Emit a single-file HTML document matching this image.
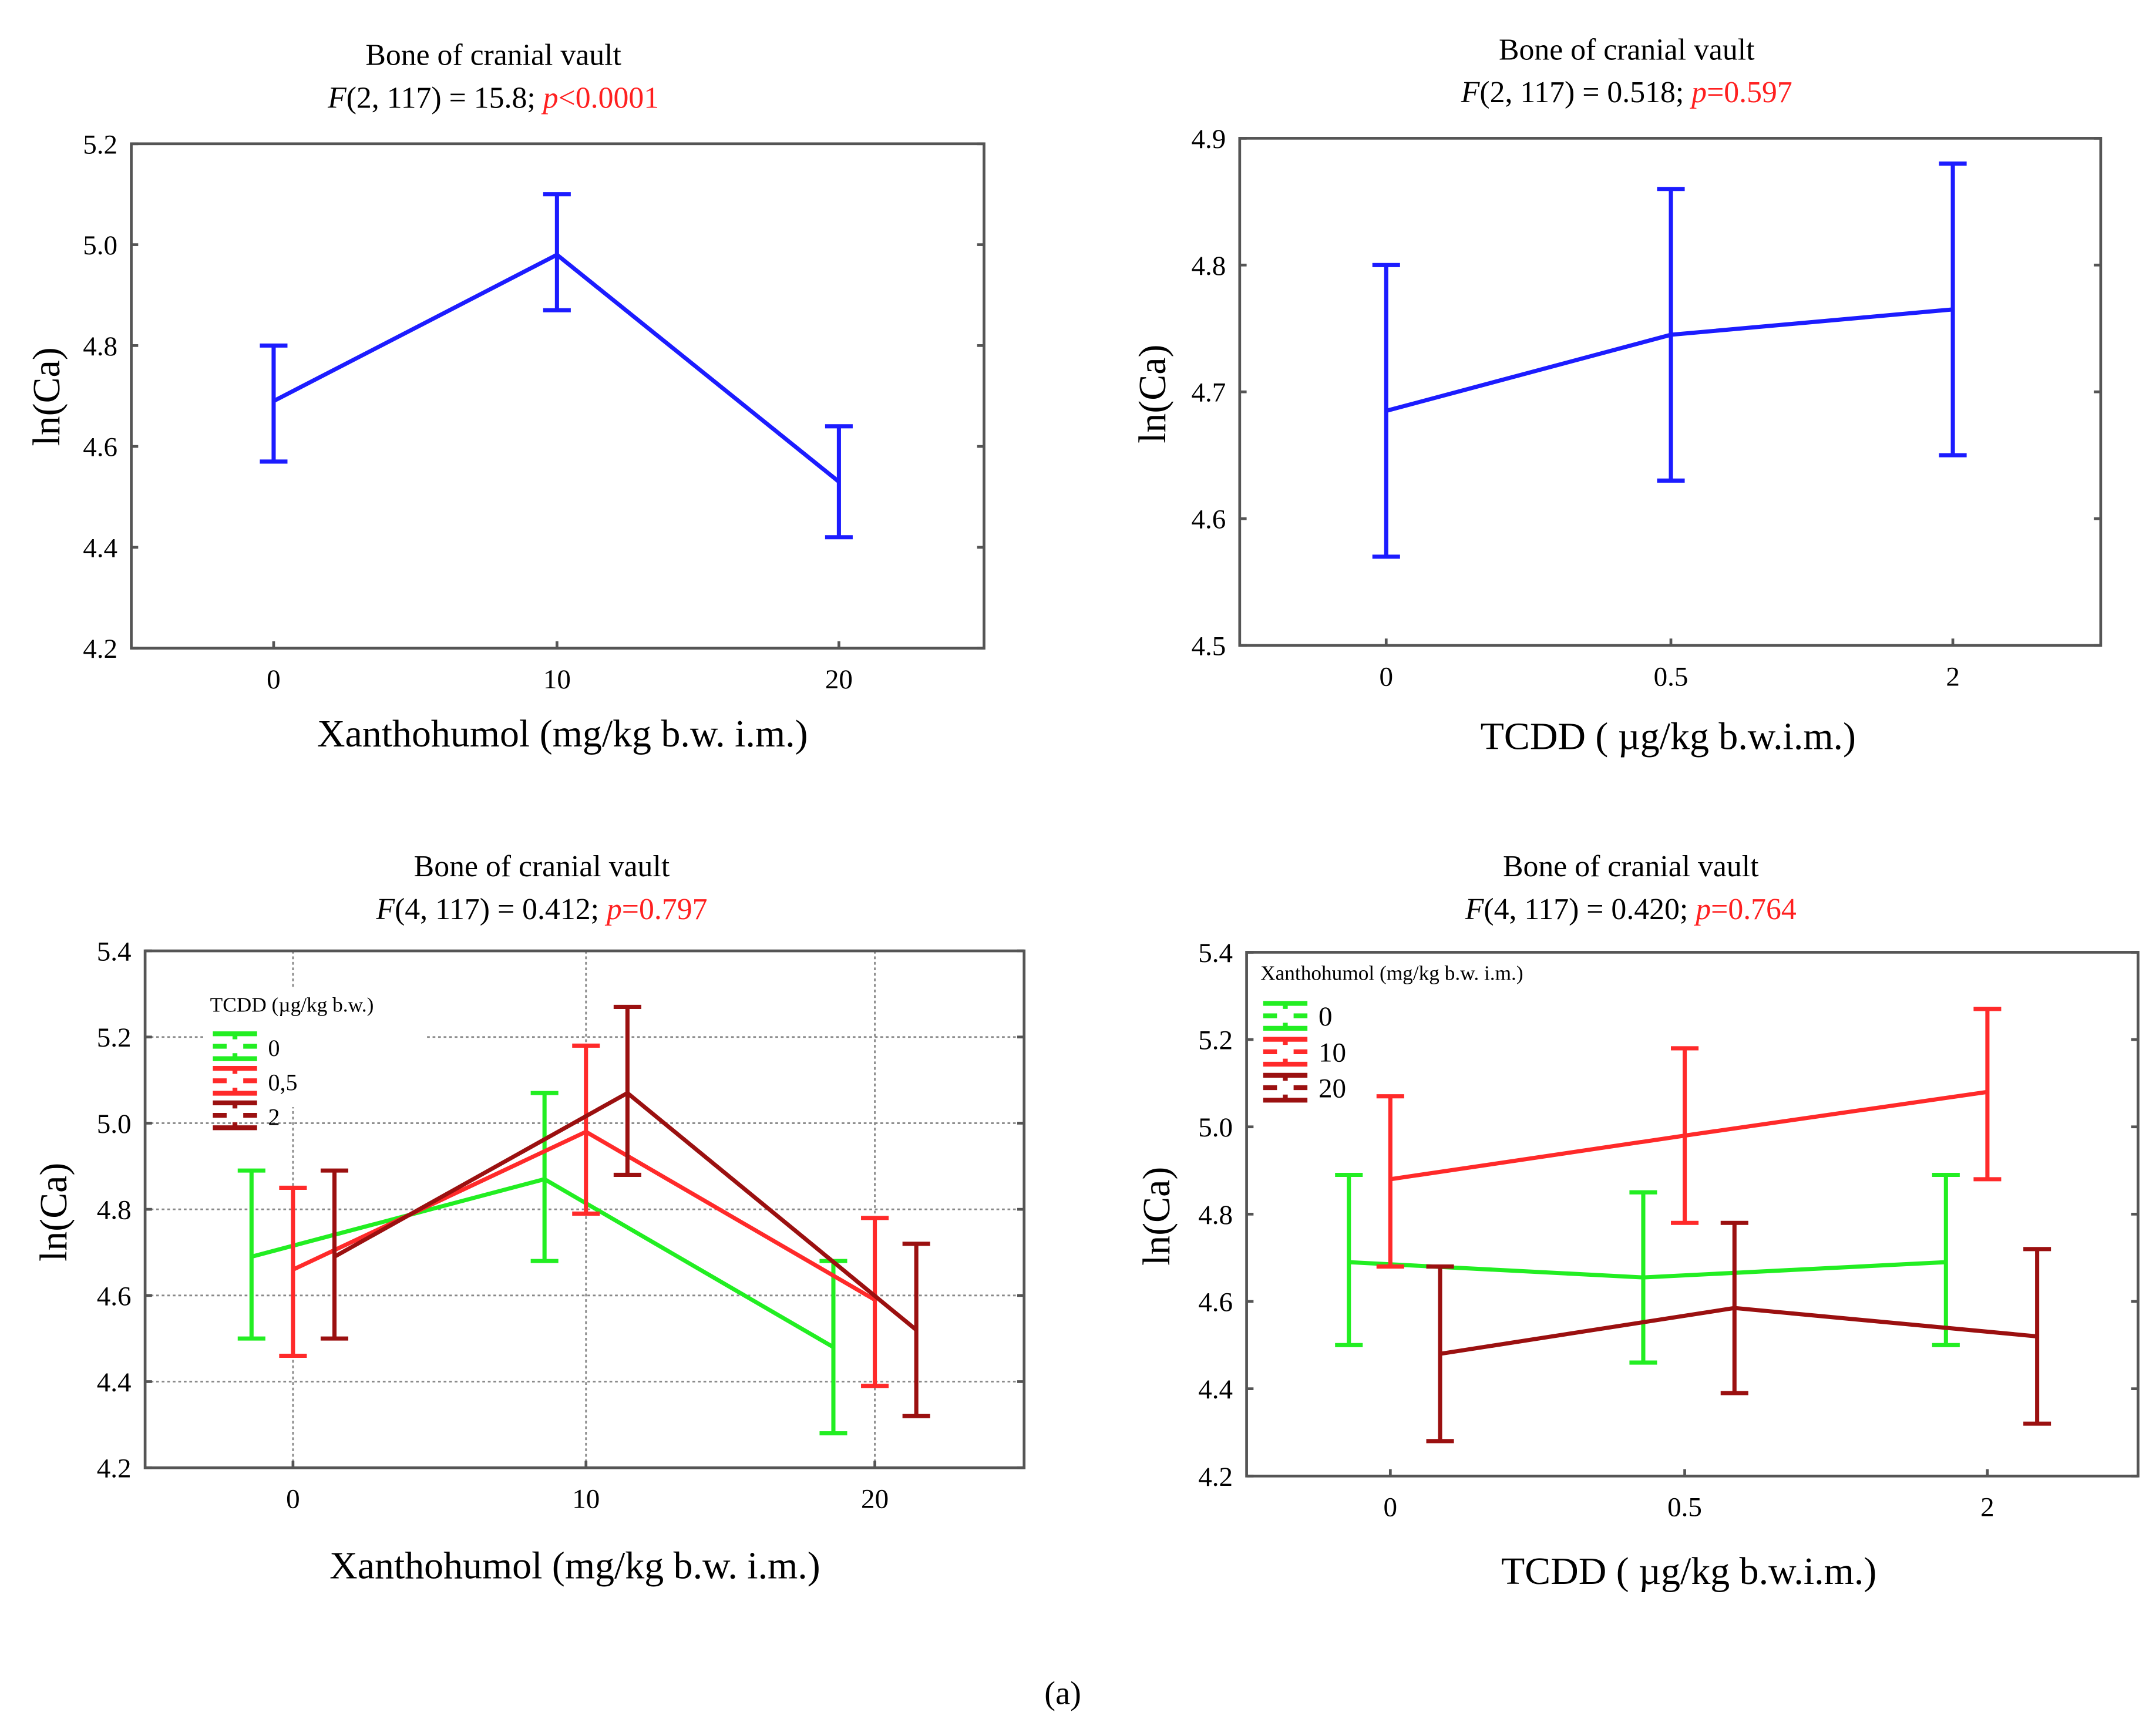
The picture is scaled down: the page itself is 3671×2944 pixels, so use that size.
<!DOCTYPE html>
<html><head><meta charset="utf-8"><style>
html,body{margin:0;padding:0;background:#fff;}
svg{display:block;}
text{font-family:"Liberation Serif",serif;}
</style></head><body>
<svg id="fig" width="3671" height="2944" viewBox="0 0 1560 1251" xmlns="http://www.w3.org/2000/svg"></svg>
<script>
// ---- data ----
const catsX = ["0","10","20"];
const catsT = ["0","0.5","2"];
const p1Mean = [4.69, 4.98, 4.53];
const p1Lo = [4.57, 4.87, 4.42];
const p1Hi = [4.80, 5.10, 4.64];
const p2Mean = [4.685, 4.745, 4.765];
const p2Lo = [4.57, 4.63, 4.65];
const p2Hi = [4.80, 4.86, 4.88];
const p3Names = ["0","0,5","2"];
const p3Mean = [[4.69,4.87,4.48],[4.66,4.98,4.59],[4.69,5.07,4.52]];
const p3Lo = [[4.50,4.68,4.28],[4.46,4.79,4.39],[4.50,4.88,4.32]];
const p3Hi = [[4.89,5.07,4.68],[4.85,5.18,4.78],[4.89,5.27,4.72]];
const p4Names = ["0","10","20"];
const p4Mean = [[4.69,4.655,4.69],[4.88,4.98,5.08],[4.48,4.585,4.52]];
const p4Lo = [[4.50,4.46,4.50],[4.68,4.78,4.88],[4.28,4.39,4.32]];
const p4Hi = [[4.89,4.85,4.89],[5.07,5.18,5.27],[4.68,4.78,4.72]];
const ticks1 = ["4.2","4.4","4.6","4.8","5.0","5.2"];
const ticks2 = ["4.5","4.6","4.7","4.8","4.9"];
const ticks3 = ["4.2","4.4","4.6","4.8","5.0","5.2","5.4"];
const colors = ["#22ee22","#ff2a2a","#9b1010"];

const NS="http://www.w3.org/2000/svg";
const svg=document.getElementById('fig');
function mk(tag,attrs,parent,txt){const e=document.createElementNS(NS,tag);for(const k in attrs)e.setAttribute(k,attrs[k]);if(txt!==undefined)e.textContent=txt;(parent||svg).appendChild(e);return e;}

function panel(o){
  const g=mk('g',{});
  
  
  const ymin=+o.ticks[0], ymax=+o.ticks[o.ticks.length-1];
  const Y=v=>o.y1+(ymax-v)/(ymax-ymin)*(o.y0-o.y1);
  const X=i=>o.xs[i];
  // title
  let t=mk('text',{x:o.tx,y:o.ty,'font-size':22,'text-anchor':'middle'},g,'Bone of cranial vault');
  
  t=mk('text',{x:o.tx,y:o.ty+31,'font-size':22,'text-anchor':'middle'},g);
  
  mk('tspan',{'font-style':'italic'},t,'F');
  mk('tspan',{},t,o.f+'; ');
  mk('tspan',{fill:'#ff2020','font-style':'italic'},t,'p');
  mk('tspan',{fill:'#ff2020'},t,o.p);
  // grid
  if(o.grid){
    o.ticks.forEach(tk=>{const y=Y(+tk);if(y>o.y1+2&&y<o.y0-2)mk('line',{x1:o.x0,x2:o.x1,y1:y,y2:y,stroke:'#888','stroke-width':1.2,'stroke-dasharray':'2,2'},g);});
    o.xs.forEach(x=>mk('line',{x1:x,x2:x,y1:o.y1,y2:o.y0,stroke:'#888','stroke-width':1.2,'stroke-dasharray':'2,2'},g));
  }
  // box
  const b=mk('rect',{x:o.x0,y:o.y1,width:o.x1-o.x0,height:o.y0-o.y1,fill:'none',stroke:'#555','stroke-width':2},g);
  
  // y ticks
  o.ticks.forEach(tk=>{const y=Y(+tk);
    mk('line',{x1:o.x0,x2:o.x0+5,y1:y,y2:y,stroke:'#555','stroke-width':2},g);
    mk('line',{x1:o.x1-5,x2:o.x1,y1:y,y2:y,stroke:'#555','stroke-width':2},g);
    const l=mk('text',{x:o.x0-10,y:y+7,'font-size':20,'text-anchor':'end'},g,tk);
    });
  o.cats.forEach((c,i)=>{
    mk('line',{x1:X(i),x2:X(i),y1:o.y0,y2:o.y0-5,stroke:'#555','stroke-width':2},g);
    const l=mk('text',{x:X(i),y:o.y0+29,'font-size':20,'text-anchor':'middle'},g,c);
    });
  t=mk('text',{x:o.xlx,y:o.xly,'font-size':28,'text-anchor':'middle'},g,o.xlabel);
  
  t=mk('text',{x:0,y:0,'font-size':28,'text-anchor':'middle',transform:`translate(${o.ylx},${o.yly}) rotate(-90)`},g,'ln(Ca)');
  
  // series
  o.series.forEach((s,si)=>{
    const sg=mk('g',{},g);
    
    
    const px=i=>X(i)+s.off;
    mk('polyline',{points:s.mean.map((v,i)=>px(i)+','+Y(v)).join(' '),fill:'none',stroke:s.color,'stroke-width':3},sg);
    s.mean.forEach((v,i)=>{
      const x=px(i);
      const eb=mk('path',{d:`M${x},${Y(s.lo[i])}V${Y(s.hi[i])}M${x-10},${Y(s.lo[i])}H${x+10}M${x-10},${Y(s.hi[i])}H${x+10}`,fill:'none',stroke:s.color,'stroke-width':3},sg);
      
    });
  });
  if(o.legend){
    const L=o.legend;
    const lg=mk('g',{},g);
    
    mk('rect',{x:L.x-4,y:L.y-16,width:L.w,height:L.h,fill:'#fff'},lg);
    const lt=mk('text',{x:L.x,y:L.y,'font-size':L.tfs},lg,L.title);
    
    o.series.forEach((s,si)=>{
      const yc=L.y+L.dy*(si+1);
      const e=mk('g',{},lg);
      
      const x=L.x+2;
      mk('path',{d:`M${x},${yc-9}H${x+32}M${x},${yc}H${x+10}M${x+22},${yc}H${x+32}M${x},${yc+9}H${x+32}M${x+16},${yc-9}V${yc-5}M${x+16},${yc+9}V${yc+5}`,stroke:s.color,'stroke-width':3.5,fill:'none'},e);
      mk('text',{x:x+40,y:yc+7,'font-size':L.fs},e,s.label);
    });
  }
}

panel({name:'panel-xanthohumol',x0:95,x1:712,y0:469,y1:104,ticks:ticks1,xs:[198,403,607],cats:catsX,
  tx:357,ty:47,f:'(2, 117) = 15.8',p:'<0.0001',xlabel:'Xanthohumol (mg/kg b.w. i.m.)',xlx:407,xly:540,ylx:43,yly:287,
  series:[{label:'mean',color:'#1c1cff',off:0,mean:p1Mean,lo:p1Lo,hi:p1Hi}]});
panel({name:'panel-tcdd',x0:897,x1:1520,y0:467,y1:100,ticks:ticks2,xs:[1003,1209,1413],cats:catsT,
  tx:1177,ty:43,f:'(2, 117) = 0.518',p:'=0.597',xlabel:'TCDD ( µg/kg b.w.i.m.)',xlx:1207,xly:542,ylx:843,yly:285,
  series:[{label:'mean',color:'#1c1cff',off:0,mean:p2Mean,lo:p2Lo,hi:p2Hi}]});
panel({name:'panel-interaction-xanthohumol',x0:105,x1:741,y0:1062,y1:688,ticks:ticks3,xs:[212,424,633],cats:catsX,grid:true,
  tx:392,ty:634,f:'(4, 117) = 0.412',p:'=0.797',xlabel:'Xanthohumol (mg/kg b.w. i.m.)',xlx:416,xly:1142,ylx:48,yly:877,
  series:p3Names.map((n,i)=>({label:n,color:colors[i],off:[-30,0,30][i],mean:p3Mean[i],lo:p3Lo[i],hi:p3Hi[i]})),
  legend:{x:152,y:732,dy:25,title:'TCDD (µg/kg b.w.)',tfs:15,fs:17,w:160,h:85}});
panel({name:'panel-interaction-tcdd',x0:902,x1:1547,y0:1068,y1:689,ticks:ticks3,xs:[1006,1219,1438],cats:catsT,
  tx:1180,ty:634,f:'(4, 117) = 0.420',p:'=0.764',xlabel:'TCDD ( µg/kg b.w.i.m.)',xlx:1222,xly:1146,ylx:846,yly:880,
  series:p4Names.map((n,i)=>({label:n,color:colors[i],off:[-30,0,36][i],mean:p4Mean[i],lo:p4Lo[i],hi:p4Hi[i]})),
  legend:{x:912,y:709,dy:26,title:'Xanthohumol (mg/kg b.w. i.m.)',tfs:15,fs:20,w:230,h:90}});
const cap=mk('text',{x:769,y:1233,'font-size':24,'text-anchor':'middle'},svg,'(a)');


</script>
</body></html>
